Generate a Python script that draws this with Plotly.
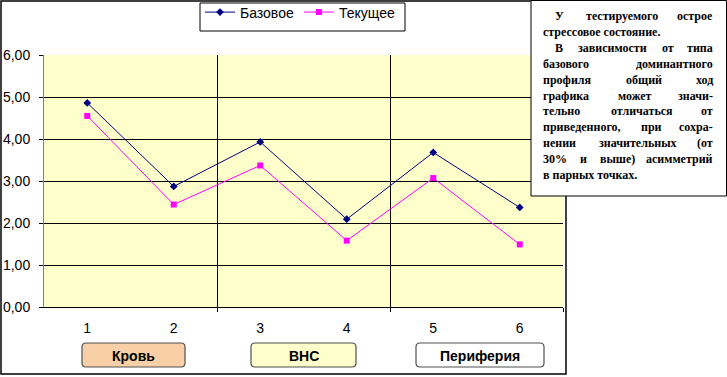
import plotly.graph_objects as go

# ---------------- data ----------------
categories = [1, 2, 3, 4, 5, 6]
base_values = [4.86, 2.87, 3.93, 2.09, 3.68, 2.37]      # Базовое
current_values = [4.55, 2.44, 3.37, 1.58, 3.07, 1.49]   # Текущее
y_ticks = [0, 1, 2, 3, 4, 5, 6]
y_tick_labels = ["0,00", "1,00", "2,00", "3,00", "4,00", "5,00", "6,00"]
x_tick_labels = ["1", "2", "3", "4", "5", "6"]
group_bounds = [2.5, 4.5, 6.5]
group_names = ["Кровь", "ВНС", "Периферия"]
group_colors = ["#F8CFA6", "#FFFFCC", "#FFFFFF"]
note_lines = [
    ("У тестируемого острое", True, True),
    ("стрессовое состояние.", False, False),
    ("В зависимости от типа", True, True),
    ("базового доминантного", False, True),
    ("профиля общий ход", False, True),
    ("графика может значи-", False, True),
    ("тельно отличаться от", False, True),
    ("приведенного, при сохра-", False, True),
    ("нении значительных (от", False, True),
    ("30% и выше) асимметрий", False, True),
    ("в парных точках.", False, False),
]

# ---------------- geometry ----------------
W, H = 727, 377
L, R, T, B = 44, 563, 55, 307


def px(x):
    return (x - L) / (R - L)


def py(y):
    return (B - y) / (B - T)


NOTE_SIZE = 12
_font = None
try:
    from PIL import ImageFont
    import os
    for cand in ["/usr/share/fonts/truetype/liberation/LiberationSerif-Bold.ttf",
                 "/usr/share/fonts/truetype/liberation2/LiberationSerif-Bold.ttf",
                 "/usr/share/fonts/liberation/LiberationSerif-Bold.ttf"]:
        if os.path.exists(cand):
            _font = ImageFont.truetype(cand, NOTE_SIZE * 4)
            break
except Exception:
    _font = None


def text_width(s):
    if _font is not None:
        try:
            return _font.getlength(s) / 4.0
        except Exception:
            pass
    return len(s) * 5.6


fig = go.Figure()
fig.add_trace(go.Scatter(
    x=categories, y=base_values, mode="lines+markers", name="Базовое",
    line=dict(color="#000080", width=1),
    marker=dict(symbol="diamond", size=6, color="#000080"),
))
fig.add_trace(go.Scatter(
    x=categories, y=current_values, mode="lines+markers", name="Текущее",
    line=dict(color="#FF00FF", width=1),
    marker=dict(symbol="square", size=6, color="#FF00FF"),
))

shapes = []
# outer chart frame
shapes.append(dict(type="rect", xref="paper", yref="paper",
                   x0=px(1), y0=py(1), x1=px(566), y1=py(374),
                   line=dict(color="black", width=1.5), layer="below"))
# legend frame
shapes.append(dict(type="rect", xref="paper", yref="paper",
                   x0=px(200), y0=py(3), x1=px(405), y1=py(31),
                   line=dict(color="black", width=1), fillcolor="white",
                   layer="below"))
# note box
shapes.append(dict(type="rect", xref="paper", yref="paper",
                   x0=px(531), y0=py(0.5), x1=px(726.5), y1=py(196),
                   line=dict(color="black", width=1), fillcolor="white",
                   layer="above"))


def rounded_rect(x0, y0, x1, y1, r):
    a0, a1 = px(x0), px(x1)
    b0, b1 = py(y0), py(y1)
    rx = r / (R - L)
    ry = r / (B - T)
    return (f"M {a0+rx},{b0} L {a1-rx},{b0} Q {a1},{b0} {a1},{b0-ry} "
            f"L {a1},{b1+ry} Q {a1},{b1} {a1-rx},{b1} "
            f"L {a0+rx},{b1} Q {a0},{b1} {a0},{b1+ry} "
            f"L {a0},{b0-ry} Q {a0},{b0} {a0+rx},{b0} Z")


annotations = []
button_boxes = [(82, 185), (251, 356), (416, 544)]
for (bx0, bx1), name, col in zip(button_boxes, group_names, group_colors):
    shapes.append(dict(type="path", xref="paper", yref="paper",
                       path=rounded_rect(bx0, 343, bx1, 367, 4),
                       fillcolor=col, line=dict(color="#505050", width=1.2),
                       layer="above"))
    annotations.append(dict(xref="paper", yref="paper",
                            x=px((bx0 + bx1) / 2), y=py(355.5),
                            text=name, showarrow=False,
                            xanchor="center", yanchor="middle",
                            font=dict(family="Arial, Liberation Sans", size=14,
                                      color="black", weight="bold")))

# note text, justified by word placement
left_x, indent_x, right_x = 542, 554, 714
for i, (line, indent, justify) in enumerate(note_lines):
    yc = 16 + 15.9 * i
    start = indent_x if indent else left_x
    words = line.split()
    fnt = dict(family="Liberation Serif, Times New Roman", size=NOTE_SIZE,
               color="black", weight="bold")
    if justify and len(words) > 1:
        widths = [text_width(w) for w in words]
        gap = (right_x - start - sum(widths)) / (len(words) - 1)
        pos = start
        for j, w in enumerate(words):
            last = j == len(words) - 1
            annotations.append(dict(xref="paper", yref="paper",
                                    x=px(right_x if last else pos),
                                    y=py(yc), text=w, showarrow=False,
                                    xanchor="right" if last else "left",
                                    yanchor="middle", font=fnt, borderpad=0))
            pos += widths[j] + gap
    else:
        annotations.append(dict(xref="paper", yref="paper", x=px(start),
                                y=py(yc), text=line, showarrow=False,
                                xanchor="left", yanchor="middle",
                                font=fnt, borderpad=0))

fig.update_layout(
    width=W, height=H,
    margin=dict(l=L, r=W - R, t=T, b=H - B, pad=0, autoexpand=False),
    paper_bgcolor="white",
    plot_bgcolor="#FFFFCC",
    font=dict(family="Arial, Liberation Sans", size=14, color="black"),
    showlegend=True,
    legend=dict(orientation="h", x=px(200), y=py(-3.5), xanchor="left", yanchor="top",
                bgcolor="rgba(0,0,0,0)", borderwidth=0,
                font=dict(family="Arial, Liberation Sans", size=14, color="black"),
                itemwidth=30, tracegroupgap=0),
    xaxis=dict(range=[0.5, 6.5], tickmode="array", tickvals=categories,
               ticktext=x_tick_labels, ticks="", showgrid=False,
               showline=True, linecolor="black", linewidth=1, zeroline=False,
               ticklabelstandoff=8,
               minor=dict(tickmode="array", tickvals=group_bounds, ticks="outside",
                          ticklen=4, tickcolor="black", showgrid=True,
                          gridcolor="black", gridwidth=1)),
    yaxis=dict(range=[0, 6], tickmode="array", tickvals=y_ticks,
               ticktext=y_tick_labels, ticks="outside", ticklen=4,
               tickcolor="black", showline=True, linecolor="#808080",
               ticklabelstandoff=6,
               showgrid=True, gridcolor="black", gridwidth=1, zeroline=False),
    shapes=shapes,
    annotations=annotations,
)

fig.write_html("out.html", config={"displayModeBar": False},
               post_script="document.body.style.margin='0px';")
